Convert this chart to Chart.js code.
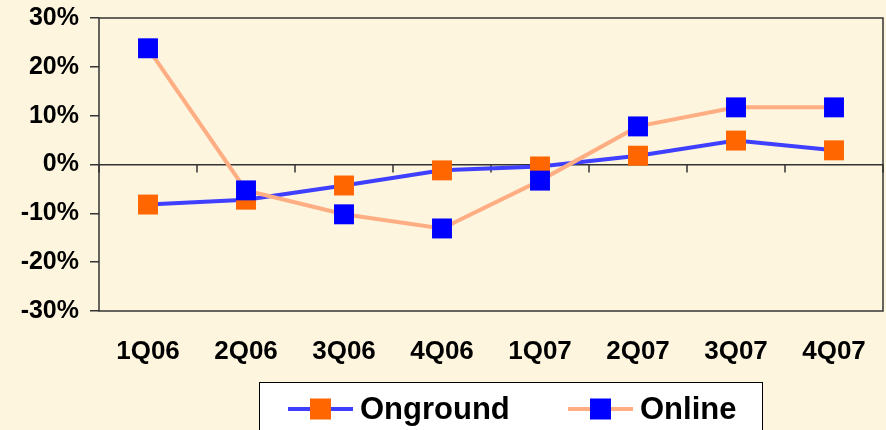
<!DOCTYPE html>
<html>
<head>
<meta charset="utf-8">
<script src="https://cdn.jsdelivr.net/npm/chart.js@4"></script>
<style>
  html, body { margin: 0; padding: 0; background: #FDF5DE; }
  #wrap { width: 886px; height: 430px; }
</style>
</head>
<body>
<div id="wrap"><canvas id="c" width="886" height="430"></canvas></div>
<script>
const categories = ['1Q06', '2Q06', '3Q06', '4Q06', '1Q07', '2Q07', '3Q07', '4Q07'];
const onground = [-8.2, -7.2, -4.3, -1.2, -0.4, 1.8, 4.9, 2.9];
const online = [23.8, -5.3, -10.2, -13.1, -3.3, 7.8, 11.7, 11.7];
const yTicks = [-30, -20, -10, 0, 10, 20, 30];
const seriesNames = ['Onground', 'Online'];

const BG = '#FDF5DE';
const AXIS = '#333333';
const FONT = "'Liberation Sans', Arial, sans-serif";

const frame = {
  id: 'frame',
  beforeDraw(chart) {
    const ctx = chart.ctx;
    ctx.save();
    ctx.fillStyle = BG;
    ctx.fillRect(0, 0, chart.width, chart.height);
    ctx.restore();
  },
  beforeDatasetsDraw(chart) {
    const {ctx, chartArea: a, scales} = chart;
    ctx.save();
    ctx.strokeStyle = AXIS;
    ctx.lineWidth = 1.5;
    ctx.strokeRect(a.left, a.top, a.right - a.left, a.bottom - a.top);
    const y0 = scales.y.getPixelForValue(0);
    const x = scales.x;
    ctx.beginPath();
    for (let i = 0; i <= categories.length; i++) {
      const px = x.getPixelForValue(i - 0.5);
      ctx.moveTo(px, y0);
      ctx.lineTo(px, y0 + 8);
    }
    ctx.stroke();
    ctx.restore();
  },
  afterDraw(chart) {
    const ctx = chart.ctx;
    const ds = chart.data.datasets;
    const boxL = 259, boxR = 762, boxT = 382, boxB = 445;
    ctx.save();
    ctx.fillStyle = '#FFFFFF';
    ctx.fillRect(boxL, boxT, boxR - boxL, boxB - boxT);
    ctx.strokeStyle = '#000000';
    ctx.lineWidth = 1;
    ctx.strokeRect(boxL + 0.5, boxT + 0.5, boxR - boxL, boxB - boxT);
    const cy = 409;
    const items = [{x: 288, tx: 360}, {x: 568, tx: 640}];
    ds.forEach((d, i) => {
      const it = items[i];
      ctx.strokeStyle = d.borderColor;
      ctx.lineWidth = 4;
      ctx.beginPath();
      ctx.moveTo(it.x, cy);
      ctx.lineTo(it.x + 65, cy);
      ctx.stroke();
      ctx.fillStyle = d.pointBackgroundColor;
      ctx.fillRect(it.x + 32.5 - 10.5, cy - 10.5, 21, 21);
      ctx.fillStyle = '#000000';
      ctx.font = 'bold 31px ' + FONT;
      ctx.textBaseline = 'middle';
      ctx.textAlign = 'left';
      ctx.fillText(d.label, it.tx, cy + 1);
    });
    ctx.restore();
  }
};

new Chart(document.getElementById('c'), {
  type: 'line',
  data: {
    labels: categories,
    datasets: [
      {
        label: seriesNames[0],
        data: onground,
        borderColor: '#3F3FFF',
        borderWidth: 4,
        pointStyle: 'rect',
        pointRadius: 14.1,
        pointBackgroundColor: '#FF6600',
        pointBorderColor: '#FF6600',
        pointBorderWidth: 0,
        tension: 0,
        clip: false,
        order: 1
      },
      {
        label: seriesNames[1],
        data: online,
        borderColor: '#FFAD82',
        borderWidth: 4,
        pointStyle: 'rect',
        pointRadius: 14.1,
        pointBackgroundColor: '#0000FF',
        pointBorderColor: '#0000FF',
        pointBorderWidth: 0,
        tension: 0,
        clip: false,
        order: 0
      }
    ]
  },
  options: {
    responsive: false,
    animation: false,
    events: [],
    layout: { autoPadding: false, padding: { top: 18, right: 3, left: 0, bottom: 0 } },
    plugins: {
      legend: { display: false },
      tooltip: { enabled: false }
    },
    scales: {
      x: {
        type: 'category',
        offset: true,
        grid: { display: false, drawTicks: false },
        border: { display: false },
        ticks: {
          color: '#000',
          font: { family: FONT, size: 26, weight: 'bold' },
          padding: 25,
          maxRotation: 0,
          autoSkip: false
        },
        afterFit(scale) {
          scale.height = 119;
          scale.paddingLeft = 0; scale.paddingRight = 0;
          scale.paddingTop = 0; scale.paddingBottom = 0;
        }
      },
      y: {
        min: -30,
        max: 30,
        afterBuildTicks(scale) { scale.ticks = yTicks.map(v => ({ value: v })); },
        grid: {
          color: (c) => (c.tick && c.tick.value === 0) ? AXIS : 'rgba(0,0,0,0)',
          tickColor: AXIS,
          lineWidth: 1.5,
          tickLength: 9,
          drawOnChartArea: true
        },
        border: { display: false },
        ticks: {
          color: '#000',
          font: { family: FONT, size: 25, weight: 'bold' },
          padding: 11,
          callback: (v) => v + '%'
        },
        afterFit(scale) {
          scale.width = 99;
          scale.paddingLeft = 0; scale.paddingRight = 0;
          scale.paddingTop = 0; scale.paddingBottom = 0;
        }
      }
    }
  },
  plugins: [frame]
});
</script>
</body>
</html>
